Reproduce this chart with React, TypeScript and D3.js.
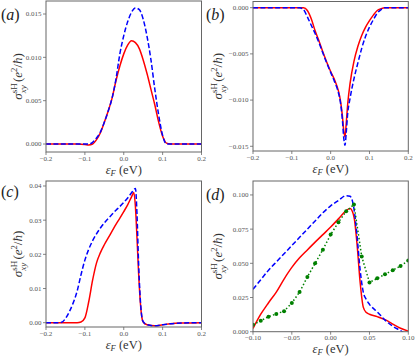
import React from 'react';
import * as d3 from 'd3';

// panel (a)
const eA = [-0.2, -0.15, -0.12, -0.1, -0.09, -0.08, -0.07, -0.06, -0.05, -0.04, -0.03, -0.02, -0.01, 0.0, 0.01, 0.02, 0.03, 0.04, 0.05, 0.06, 0.07, 0.08, 0.09, 0.1, 0.11, 0.12, 0.15, 0.2];
const redA = [0, 0, 0, -0.00005, -0.0001, 0.0, 0.0005, 0.0013, 0.0025, 0.0038, 0.0053, 0.0073, 0.009, 0.0104, 0.0114, 0.0119, 0.0117, 0.011, 0.0097, 0.0081, 0.0063, 0.0045, 0.0025, 0.0009, 0.0001, 0, 0, 0];
const blueA = [0, 0, 0, 0, 0.0, 0.0002, 0.0007, 0.0014, 0.0025, 0.0038, 0.0053, 0.0075, 0.0104, 0.0125, 0.0141, 0.0152, 0.0157, 0.0155, 0.0144, 0.0124, 0.0097, 0.0063, 0.0033, 0.001, 0.0, 0, 0, 0];

// panel (b)
const eB = [-0.2, -0.15, -0.1, -0.08, -0.07, -0.06, -0.05, -0.04, -0.03, -0.02, -0.01, 0.0, 0.01, 0.02, 0.025, 0.03, 0.034, 0.037, 0.04, 0.044, 0.05, 0.06, 0.07, 0.08, 0.09, 0.1, 0.11, 0.12, 0.13, 0.14, 0.15, 0.2];
const redB = [0, 0, 0, 0, 0, -0.0003, -0.0012, -0.0025, -0.0036, -0.0048, -0.0059, -0.0069, -0.0078, -0.009, -0.01, -0.0116, -0.0134, -0.014, -0.0126, -0.0104, -0.0082, -0.0058, -0.0042, -0.003, -0.0021, -0.0014, -0.0008, -0.0003, -0.0001, 0, 0, 0];
const blueB = [0, 0, 0, 0, -0.0002, -0.001, -0.0019, -0.0028, -0.0038, -0.0049, -0.006, -0.007, -0.008, -0.0092, -0.0102, -0.012, -0.0142, -0.0149, -0.0136, -0.0114, -0.0098, -0.0077, -0.006, -0.0044, -0.0031, -0.0021, -0.0013, -0.0006, -0.0002, 0, 0, 0];

// panel (c)
const eC = [-0.2, -0.17, -0.16, -0.15, -0.14, -0.13, -0.12, -0.11, -0.1, -0.09, -0.08, -0.07, -0.06, -0.05, -0.04, -0.03, -0.02, -0.01, 0.0, 0.01, 0.02, 0.026, 0.03, 0.034, 0.038, 0.042, 0.046, 0.05, 0.06, 0.08, 0.1, 0.12, 0.15, 0.2];
const redC = [0, 0, 0, 0, 0, 0, 0, 0.0002, 0.0014, 0.0062, 0.0125, 0.0175, 0.0205, 0.0228, 0.0248, 0.0268, 0.0288, 0.0306, 0.0325, 0.0345, 0.0368, 0.0381, 0.034, 0.025, 0.015, 0.007, 0.002, 0.0002, -0.0006, -0.0009, -0.0006, -0.0003, -0.0001, 0];
const blueC = [0, 0, 0.0001, 0.0012, 0.0032, 0.0058, 0.0092, 0.014, 0.0183, 0.0215, 0.024, 0.026, 0.0277, 0.0292, 0.0305, 0.0317, 0.0329, 0.034, 0.0352, 0.0365, 0.038, 0.0389, 0.0393, 0.032, 0.018, 0.008, 0.0022, 0.0003, -0.0006, -0.0009, -0.0006, -0.0003, -0.0001, 0];

// panel (d)
const eD = [-0.1, -0.09, -0.08, -0.07, -0.06, -0.05, -0.04, -0.03, -0.02, -0.01, 0.0, 0.01, 0.02, 0.025, 0.03, 0.034, 0.038, 0.042, 0.046, 0.05, 0.06, 0.07, 0.08, 0.09, 0.1];
const redD = [0.0024, 0.0128, 0.0212, 0.029, 0.0385, 0.047, 0.054, 0.0598, 0.0655, 0.071, 0.0765, 0.0825, 0.0885, 0.09, 0.084, 0.064, 0.036, 0.018, 0.014, 0.0128, 0.011, 0.0088, 0.0056, 0.0025, 0.0004];
const blueD = [0.031, 0.038, 0.045, 0.051, 0.057, 0.063, 0.069, 0.075, 0.081, 0.087, 0.092, 0.096, 0.0995, 0.099, 0.09, 0.07, 0.045, 0.029, 0.0235, 0.02, 0.0145, 0.0085, 0.004, 0.0008, -0.003];
const eGreen = [-0.1, -0.09, -0.08, -0.07, -0.06, -0.05, -0.04, -0.03, -0.02, -0.01, 0.0, 0.01, 0.02, 0.03, 0.04, 0.05, 0.06, 0.07, 0.08, 0.09, 0.1];
const greenD = [0.005, 0.008, 0.011, 0.013, 0.015, 0.021, 0.029, 0.04, 0.05, 0.06, 0.071, 0.08, 0.088, 0.093, 0.055, 0.036, 0.039, 0.042, 0.045, 0.048, 0.052];

const xTicksWide = [-0.2, -0.1, 0.0, 0.1, 0.2];
const xTicksNarrow = [-0.1, -0.05, 0.0, 0.05, 0.1];
const yTicksA = [0, 0.005, 0.01, 0.015];
const yTicksB = [0, -0.005, -0.01, -0.015];
const yTicksC = [0, 0.01, 0.02, 0.03, 0.04];
const yTicksD = [0, 0.025, 0.05, 0.075, 0.1];

const SERIF = "'Liberation Serif', 'Times New Roman', 'DejaVu Serif', serif";

type Series = { x: number[]; y: number[]; color: string; dash?: string; markers?: boolean };

type PanelProps = {
  letter: string;
  box: [number, number, number, number]; // left, top, right, bottom
  xDomain: [number, number];
  yDomain: [number, number];
  xTicks: number[];
  yTicks: number[];
  xDigits: number;
  yDigits: number;
  series: Series[];
  letterPos: [number, number];
  yLabelX: number;
};

const fmt = (v: number, d: number) => (v < 0 ? '\u2212' : '') + Math.abs(v).toFixed(d);

const Panel = ({ letter, box, xDomain, yDomain, xTicks, yTicks, xDigits, yDigits, series, letterPos, yLabelX }: PanelProps) => {
  const [l, t, r, b] = box;
  const x = d3.scaleLinear().domain(xDomain).range([l, r]);
  const y = d3.scaleLinear().domain(yDomain).range([b, t]);
  const clipId = 'clip-' + letter;
  const midY = (t + b) / 2;
  const ts = { fontFamily: SERIF };
  return (
    <g>
      <defs>
        <clipPath id={clipId}>
          <rect x={l} y={t} width={r - l} height={b - t} />
        </clipPath>
      </defs>
      <g clipPath={`url(#${clipId})`}>
        {series.map((s, i) => {
          const pts = s.x.map((xv, j) => [xv, s.y[j]] as [number, number]);
          const line = d3.line<[number, number]>()
            .x(d => x(d[0]))
            .y(d => y(d[1]))
            .curve(s.markers ? d3.curveLinear : d3.curveMonotoneX);
          return (
            <g key={i}>
              <path d={line(pts) || ''} fill="none" stroke={s.color} strokeWidth={1.5} strokeDasharray={s.dash} />
              {s.markers && pts.map((p, j) => (
                <circle key={j} cx={x(p[0])} cy={y(p[1])} r={2} fill={s.color} />
              ))}
            </g>
          );
        })}
      </g>
      <rect x={l} y={t} width={r - l} height={b - t} fill="none" stroke="#666" strokeWidth={1} />
      {xTicks.map(v => (
        <g key={'x' + v}>
          <line x1={x(v)} x2={x(v)} y1={b} y2={b + 3} stroke="#666" strokeWidth={0.8} />
          <text x={x(v)} y={b + 8.5} textAnchor="middle" fontSize={7} fill="#555" style={ts}>{fmt(v, xDigits)}</text>
        </g>
      ))}
      {yTicks.map(v => (
        <g key={'y' + v}>
          <line x1={l - 3} x2={l} y1={y(v)} y2={y(v)} stroke="#666" strokeWidth={0.8} />
          <text x={l - 4.5} y={y(v) + 2.4} textAnchor="end" fontSize={7} fill="#555" style={ts}>{fmt(v, yDigits)}</text>
        </g>
      ))}
      <text x={(l + r) / 2} y={b + 21.5} textAnchor="middle" fontSize={12.5} fill="#333" style={ts}>
        <tspan fontStyle="italic">ε</tspan>
        <tspan fontStyle="italic" fontSize={8.5} dy={2}>F</tspan>
        <tspan dy={-2}> (eV)</tspan>
      </text>
      <text transform={`translate(${yLabelX},${midY}) rotate(-90)`} textAnchor="middle" fontSize={13} fill="#333" style={ts}>
        <tspan fontStyle="italic">σ</tspan>
        <tspan fontSize={9} dy={-5}>sH</tspan>
        <tspan fontSize={9} fontStyle="italic" dx={-10} dy={9}>xy</tspan>
        <tspan dy={-4}> (</tspan>
        <tspan fontStyle="italic">e</tspan>
        <tspan fontSize={8.5} dy={-5}>2</tspan>
        <tspan dy={5}>/</tspan>
        <tspan fontStyle="italic">ħ</tspan>
        <tspan>)</tspan>
      </text>
      <text x={letterPos[0]} y={letterPos[1]} fontSize={16} fill="#222" style={ts}>
        (<tspan fontStyle="italic">{letter}</tspan>)
      </text>
    </g>
  );
};

const App = () => (
  <svg width={415} height={356} style={{ position: 'absolute', left: 0, top: 0, background: '#fff' }}>
    <Panel letter="a" box={[46, 1, 201.5, 152]} xDomain={[-0.2, 0.2]} yDomain={[-0.00092, 0.0165]}
      xTicks={xTicksWide} yTicks={yTicksA} xDigits={1} yDigits={3} letterPos={[1, 20]} yLabelX={22}
      series={[
        { x: eA, y: redA, color: '#ff0000' },
        { x: eA, y: blueA, color: '#0000ff', dash: '5,2.4' },
      ]} />
    <Panel letter="b" box={[253, 1.5, 408.3, 151]} xDomain={[-0.2, 0.2]} yDomain={[-0.01551, 0.00067]}
      xTicks={xTicksWide} yTicks={yTicksB} xDigits={1} yDigits={3} letterPos={[206, 20]} yLabelX={222}
      series={[
        { x: eB, y: redB, color: '#ff0000' },
        { x: eB, y: blueB, color: '#0000ff', dash: '5,2.4' },
      ]} />
    <Panel letter="c" box={[46, 181, 201.5, 327]} xDomain={[-0.2, 0.2]} yDomain={[-0.00126, 0.04146]}
      xTicks={xTicksWide} yTicks={yTicksC} xDigits={1} yDigits={2} letterPos={[1, 197]} yLabelX={22}
      series={[
        { x: eC, y: redC, color: '#ff0000' },
        { x: eC, y: blueC, color: '#0000ff', dash: '5,2.4' },
      ]} />
    <Panel letter="d" box={[253, 181, 408.3, 331.7]} xDomain={[-0.1, 0.1]} yDomain={[0, 0.1102]}
      xTicks={xTicksNarrow} yTicks={yTicksD} xDigits={2} yDigits={3} letterPos={[206, 200]} yLabelX={222}
      series={[
        { x: eD, y: redD, color: '#ff0000' },
        { x: eD, y: blueD, color: '#0000ff', dash: '5,2.4' },
        { x: eGreen, y: greenD, color: '#008000', dash: '1.5,2.2', markers: true },
      ]} />
  </svg>
);

export default App;
